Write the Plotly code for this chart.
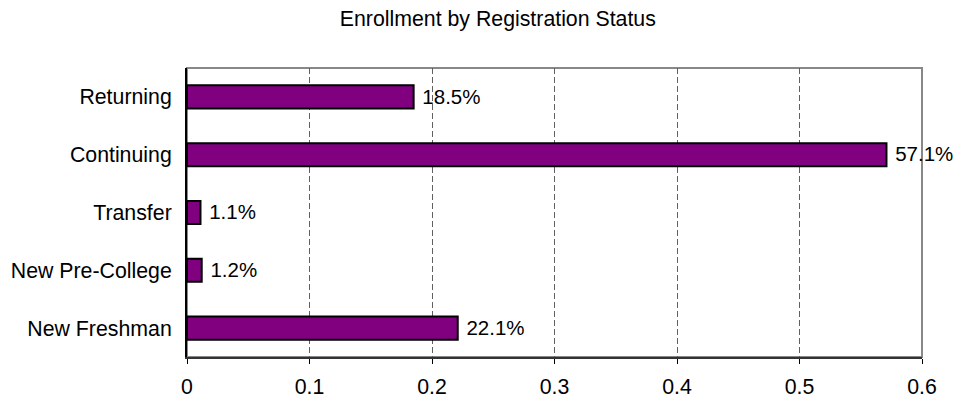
import plotly.graph_objects as go

categories = ["New Freshman", "New Pre-College", "Transfer", "Continuing", "Returning"]
values = [0.221, 0.012, 0.011, 0.571, 0.185]
labels = ["22.1%", "1.2%", "1.1%", "57.1%", "18.5%"]
x_ticks = [0, 0.1, 0.2, 0.3, 0.4, 0.5, 0.6]
x_tick_text = ["0", "0.1", "0.2", "0.3", "0.4", "0.5", "0.6"]
title = "Enrollment by Registration Status"

FONT = "Liberation Sans, Arial, sans-serif"
FS = 21.3

fig = go.Figure(go.Bar(
    y=categories, x=values, orientation="h",
    marker=dict(color="#800080", line=dict(color="black", width=2)),
    width=0.4,
    text=labels, texttemplate=" %{text}", textposition="outside", cliponaxis=False,
    textfont=dict(family=FONT, size=FS, color="black"),
    hoverinfo="skip",
))

fig.update_layout(
    width=953, height=392,
    margin=dict(l=179, r=39, t=60, b=43, autoexpand=False),
    paper_bgcolor="white", plot_bgcolor="white",
    showlegend=False,
    font=dict(family=FONT, size=FS, color="black"),
    title=dict(text=title, x=0.514, xanchor="center", xref="container",
               y=0.973, yref="container", yanchor="middle",
               font=dict(family=FONT, size=FS, color="black")),
    xaxis=dict(range=[0, 0.6], tickvals=x_ticks, ticktext=x_tick_text,
               showgrid=True, gridcolor="#606060", griddash="6px,3px", gridwidth=1,
               showline=True, linecolor="#333333", linewidth=2,
               ticks="outside", ticklen=5, tickcolor="black", tickwidth=1,
               zeroline=False, tickfont=dict(size=FS), automargin=False,
               ticklabelstandoff=4),
    yaxis=dict(categoryorder="array", categoryarray=categories,
               showline=True, linecolor="black", linewidth=2,
               ticks="", showgrid=False, zeroline=False, automargin=False,
               ticklabelstandoff=9, tickfont=dict(size=FS)),
    shapes=[dict(type="rect", xref="paper", yref="paper", x0=0, x1=1, y0=0, y1=1,
                 line=dict(color="#888888", width=2), layer="below")],
)

fig.write_html("out.html")
